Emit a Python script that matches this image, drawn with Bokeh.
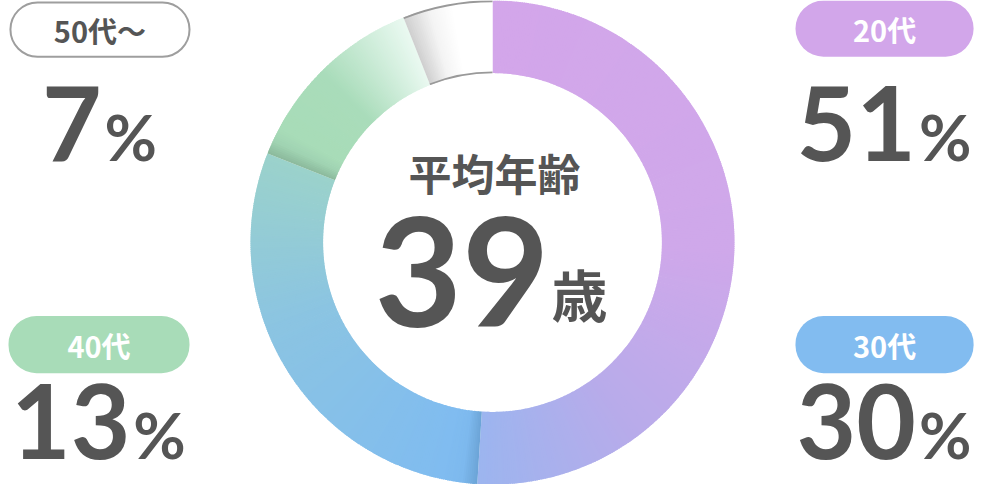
import math
from bokeh.plotting import figure
from bokeh.models import ColumnDataSource, BoxAnnotation, Range1d
from bokeh.core.properties import value
from bokeh.embed import file_html
from bokeh.resources import INLINE

# ---------------- data ----------------
categories = ["20代", "30代", "40代", "50代～"]
shares = [51, 30, 13, 7]
center_title = "平均年齢"
average_age = 39
age_unit = "歳"
pct_sign = "%"

# ---------------- layout / styles ----------------
W, H = 984, 484
S = 0.968                      # px per reference unit
CX, CY = 500, 250              # donut centre (reference coords, y down)
R_OUT, R_IN = 250, 175
TXT = "#555555"
NUM_FONT = "Lato"
CJK_FONT = "Noto Sans CJK JP"
LATO_SHIFT = 0.34              # empirical baseline correction (em)
CJK_SHIFT = 0.39


def Y(y):
    return 500 - y


def px(v):
    return f"{round(v * S)}px"


grad_stops = {
    "20代": [(0, "#D3A6EA"), (0.5, "#CFA8EA"), (0.78, "#B8ABEA"), (1.0, "#9CB5EF")],
    "30代": [(0, "#6CA4D6"), (0.035, "#7DB9EE"), (0.08, "#80BCF0"), (0.6, "#8BC4E2"), (1.0, "#9BD2CB")],
    "40代": [(0, "#8BB99C"), (0.07, "#A0D3B2"), (0.14, "#A8DCB8"), (0.5, "#A9DCBA"), (1.0, "#EAF9F1")],
    "50代～": [(0, "#CFCFCF"), (0.3, "#F4F4F4"), (0.55, "#FFFFFF"), (1.0, "#FFFFFF")],
}
pill_box = {
    "20代": (813, 997, 0, 58),
    "30代": (813, 997, 326, 385),
    "40代": (0, 187, 326, 385),
    "50代～": (2, 187, 2, 58),
}
pill_fill = {"20代": "#D2A6EA", "30代": "#82BCF0", "40代": "#A8DCB8", "50代～": "#FFFFFF"}
pill_line = {"20代": None, "30代": None, "40代": None, "50代～": "#9E9E9E"}
pill_text_color = {"20代": "#FFFFFF", "30代": "#FFFFFF", "40代": "#FFFFFF", "50代～": TXT}
num_baseline = {"20代": 163, "50代～": 163, "30代": 471, "40代": 471}

NUM_SIZE = 106
PCT_SIZE = 66
DIGIT_ADV = 0.58 * NUM_SIZE
PCT_ADV = 58


def hex2rgb(h):
    h = h.lstrip("#")
    return tuple(int(h[i:i + 2], 16) for i in (0, 2, 4))


def interp(stops, t):
    for (t0, c0), (t1, c1) in zip(stops[:-1], stops[1:]):
        if t <= t1:
            f = 0 if t1 == t0 else (t - t0) / (t1 - t0)
            a, b = hex2rgb(c0), hex2rgb(c1)
            return "#%02x%02x%02x" % tuple(round(a[i] + (b[i] - a[i]) * f) for i in range(3))
    return stops[-1][1]


p = figure(width=W, height=H, output_backend="svg", toolbar_location=None,
           x_range=Range1d(CX - W / S / 2, CX + W / S / 2), y_range=Range1d(0, 500),
           min_border=0)
p.axis.visible = False
p.grid.visible = False
p.outline_line_color = None
p.background_fill_color = "#FFFFFF"
p.border_fill_color = "#FFFFFF"

# ---------------- donut (gradient by sub-wedges) ----------------
starts, ends, cols = [], [], []
cum = 0
seg_ranges = {}
for cat, sh in zip(categories, shares):
    a0 = cum / 100 * 360
    a1 = min(cum + sh, 100) / 100 * 360
    seg_ranges[cat] = (a0, a1)
    cum += sh
    n = max(1, int(math.ceil((a1 - a0) / 0.5)))
    for i in range(n):
        s_ = a0 + (a1 - a0) * i / n
        e_ = a0 + (a1 - a0) * (i + 1) / n
        if i < n - 1:
            e_ += 0.25
        t = (i + 0.5) / n
        starts.append(math.radians(90 - s_))
        ends.append(math.radians(90 - e_))
        cols.append(interp(grad_stops[cat], t))

src = ColumnDataSource(dict(x=[CX] * len(starts), y=[Y(CY)] * len(starts),
                            sa=starts, ea=ends, c=cols))
p.annular_wedge(x="x", y="y", inner_radius=R_IN, outer_radius=R_OUT,
                start_angle="sa", end_angle="ea", direction="clock",
                fill_color="c", line_color=None, source=src)

# outline of the white segment
a0, a1 = seg_ranges["50代～"]
for r in (R_OUT - 0.8, R_IN + 0.8):
    p.arc(x=[CX], y=[Y(CY)], radius=r, start_angle=math.radians(90 - a0),
          end_angle=math.radians(90 - a1), direction="clock",
          line_color="#999999", line_width=1.8)

# ---------------- centre text ----------------
p.text(x=[502], y=[Y(177)], text=[center_title], text_font=value(CJK_FONT),
       text_font_style="bold", text_font_size=px(44), text_color=TXT,
       text_align="center", text_baseline="middle")
AGE_SIZE = 156
p.text(x=[559], y=[Y(333 - LATO_SHIFT * AGE_SIZE)], text=[str(average_age)],
       text_font=value(NUM_FONT), text_font_style="bold",
       text_font_size=px(AGE_SIZE), text_color=TXT,
       text_align="right", text_baseline="alphabetic")
UNIT_SIZE = 58
p.text(x=[561], y=[Y(324 - CJK_SHIFT * UNIT_SIZE)], text=[age_unit],
       text_font=value(CJK_FONT), text_font_style="bold",
       text_font_size=px(UNIT_SIZE), text_color=TXT,
       text_align="left", text_baseline="alphabetic")

# ---------------- pills and percentages ----------------
for cat, sh in zip(categories, shares):
    l, r, t, b = pill_box[cat]
    box = BoxAnnotation(left=l, right=r, top=Y(t), bottom=Y(b),
                        fill_color=pill_fill[cat], fill_alpha=1.0,
                        line_color=pill_line[cat], line_alpha=1.0, line_width=2,
                        border_radius=round(29 * S), level="underlay")
    p.add_layout(box)
    cx = (l + r) / 2
    p.text(x=[cx], y=[Y((t + b) / 2)], text=[cat], text_font=value(CJK_FONT),
           text_font_style="bold", text_font_size=px(30),
           text_color=pill_text_color[cat], text_align="center",
           text_baseline="middle")
    s_txt = str(sh)
    split = cx + (len(s_txt) * DIGIT_ADV - PCT_ADV) / 2
    base = num_baseline[cat]
    p.text(x=[split], y=[Y(base - LATO_SHIFT * NUM_SIZE)], text=[s_txt],
           text_font=value(NUM_FONT), text_font_style="bold",
           text_font_size=px(NUM_SIZE), text_color=TXT,
           text_align="right", text_baseline="alphabetic")
    p.text(x=[split + 3], y=[Y(base - LATO_SHIFT * PCT_SIZE)], text=[pct_sign],
           text_font=value(NUM_FONT), text_font_style="bold",
           text_font_size=px(PCT_SIZE), text_color=TXT,
           text_align="left", text_baseline="alphabetic")

open("out.html", "w").write(file_html(p, INLINE))
